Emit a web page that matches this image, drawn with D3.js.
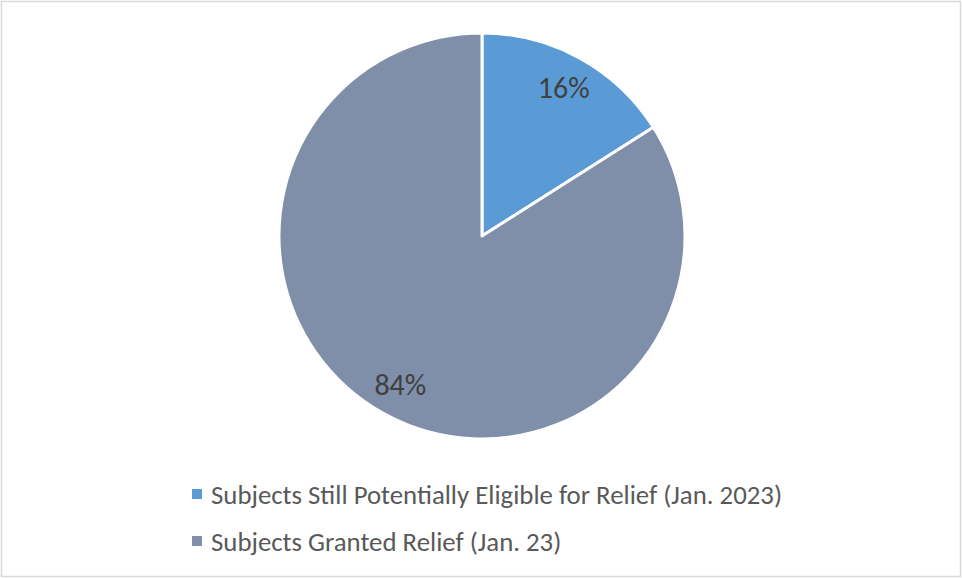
<!DOCTYPE html>
<html>
<head>
<meta charset="utf-8">
<script src="https://cdn.jsdelivr.net/npm/d3@7"></script>
<style>
  body { margin: 0; background: #fff; }
  svg { display: block; }
  text { font-family: Carlito, Lato, "Open Sans", sans-serif; }
</style>
</head>
<body>
<div id="chart"></div>
<script>
const width = 962;
const height = 578;

// slice data, clockwise from 12 o'clock
const categories = ['Subjects Still Potentially Eligible for Relief (Jan. 2023)', 'Subjects Granted Relief (Jan. 23)'];
const values = [16, 84];
const labels = ['16%', '84%'];
const colors = ['#5b9bd5', '#7f8fa9'];

const cx = 482, cy = 236, radius = 203;

var svg = d3.select('#chart')
    .append('svg')
    .attr('width', width)
    .attr('height', height);

// chart area frame
svg.append('rect')
    .attr('x', 1.5).attr('y', 1.5)
    .attr('width', width - 3).attr('height', height - 3)
    .attr('fill', '#fff')
    .attr('stroke', '#d9d9d9')
    .attr('stroke-width', 1.5);

let pie = d3.pie().sort(null).value(d => d);
let arcs = pie(values);

let arc = d3.arc().innerRadius(0).outerRadius(radius);
let labelArc = d3.arc().innerRadius(radius * 0.835).outerRadius(radius * 0.835);

let g = svg.append('g').attr('transform', `translate(${cx},${cy})`);

g.selectAll('path')
    .data(arcs)
    .enter()
    .append('path')
    .attr('d', arc)
    .attr('fill', (d, i) => colors[i])
    .attr('stroke', '#fff')
    .attr('stroke-width', 3)
    .attr('stroke-linejoin', 'round');

g.selectAll('text.lbl')
    .data(arcs)
    .enter()
    .append('text')
    .attr('class', 'lbl')
    .attr('transform', d => `translate(${labelArc.centroid(d)})`)
    .attr('text-anchor', 'middle')
    .attr('dominant-baseline', 'central')
    .attr('fill', '#404040')
    .style('font-size', '30px')
    .style('font-weight', 300)
    .text((d, i) => labels[i]);

// legend
let legend = svg.append('g').attr('transform', 'translate(192, 494)');
let rows = legend.selectAll('g')
    .data(categories)
    .enter()
    .append('g')
    .attr('transform', (d, i) => `translate(0, ${i * 47})`);

rows.append('rect')
    .attr('x', 0).attr('y', -5)
    .attr('width', 10).attr('height', 10)
    .attr('fill', (d, i) => colors[i]);

rows.append('text')
    .attr('x', 19)
    .attr('y', 0)
    .attr('dominant-baseline', 'central')
    .attr('fill', '#595959')
    .style('font-size', '26.8px')
    .text(d => d);
</script>
</body>
</html>
